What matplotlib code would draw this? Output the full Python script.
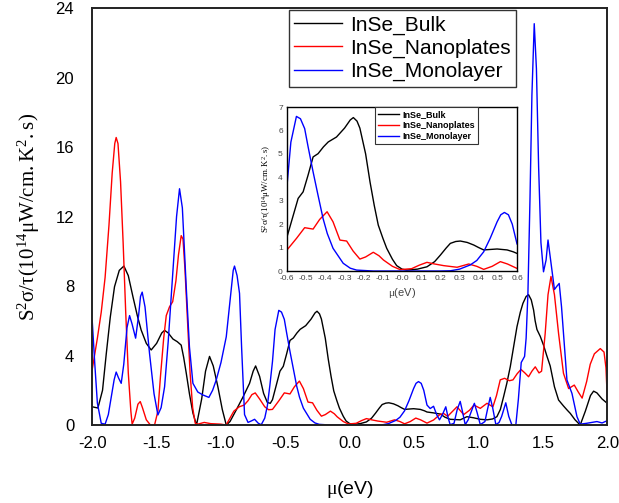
import numpy as np
import matplotlib.pyplot as plt
from matplotlib.ticker import FormatStrFormatter

plt.rcParams['font.family'] = ['Liberation Sans', 'DejaVu Sans']
plt.rcParams['mathtext.fontset'] = 'custom'
plt.rcParams['mathtext.rm'] = 'Liberation Serif'

# InSe_Bulk
mu_bulk = [-2.0, -1.956, -1.92, -1.891, -1.86, -1.827, -1.79, -1.754, -1.72, -1.684,
           -1.65, -1.62, -1.58, -1.542, -1.50, -1.46, -1.438, -1.41, -1.373, -1.34,
           -1.309, -1.29, -1.27, -1.245, -1.218, -1.19, -1.15, -1.12, -1.089, -1.06,
           -1.024, -0.99, -0.959, -0.93, -0.882, -0.83, -0.778, -0.75, -0.731, -0.70,
           -0.669, -0.64, -0.617, -0.6, -0.542, -0.516, -0.49, -0.464, -0.438, -0.41,
           -0.385, -0.342, -0.30, -0.27, -0.254, -0.235, -0.22, -0.19, -0.167, -0.145,
           -0.124, -0.10, -0.08, -0.05, -0.028, 0.0, 0.025, 0.08, 0.13, 0.17,
           0.2, 0.23, 0.252, 0.28, 0.304, 0.34, 0.374, 0.40, 0.426, 0.46,
           0.496, 0.548, 0.58, 0.6, 0.65, 0.704, 0.74, 0.78, 0.858, 0.91,
           0.96, 1.014, 1.066, 1.11, 1.143, 1.17, 1.195, 1.22, 1.247, 1.275,
           1.299, 1.325, 1.345, 1.37, 1.389, 1.41, 1.428, 1.44, 1.454, 1.48,
           1.505, 1.53, 1.557, 1.59, 1.622, 1.66, 1.69, 1.713, 1.75, 1.79,
           1.83, 1.87, 1.894, 1.92, 1.96, 2.0]
pf_bulk = [1.05, 0.98, 2.0, 4.1, 6.2, 7.96, 8.9, 9.15, 8.6, 7.39,
           6.3, 5.47, 4.7, 4.32, 4.7, 5.3, 5.45, 5.3, 4.95, 4.8,
           4.6, 3.9, 3.0, 1.8, 0.69, 0.0, 1.5, 3.1, 3.95, 3.4,
           2.2, 0.9, 0.0, 0.2, 0.86, 1.6, 2.4, 3.1, 3.4, 2.8,
           1.82, 1.3, 1.25, 1.46, 3.1, 3.38, 4.1, 4.87, 5.01, 5.3,
           5.51, 5.72, 6.1, 6.45, 6.55, 6.4, 6.1, 5.0, 3.8, 2.8,
           1.96, 1.4, 0.97, 0.5, 0.23, 0.08, 0.04, 0.08, 0.18, 0.4,
           0.68, 0.98, 1.18, 1.26, 1.28, 1.22, 1.11, 1.0, 0.9, 0.92,
           0.94, 0.9, 0.82, 0.75, 0.7, 0.63, 0.45, 0.33, 0.3, 0.48,
           0.42, 0.33, 0.3, 0.35, 0.48, 0.9, 1.63, 2.4, 3.36, 4.6,
           5.66, 6.5, 7.0, 7.4, 7.5, 7.2, 6.62, 6.0, 5.5, 5.1,
           4.6, 4.0, 3.4, 2.2, 1.44, 1.1, 0.85, 0.67, 0.3, 0.0,
           0.8, 1.7, 1.95, 1.85, 1.5, 1.25]

# InSe_Nanoplates
mu_nano = [-2.0, -1.96, -1.93, -1.90, -1.87, -1.845, -1.825, -1.814, -1.80, -1.78,
           -1.76, -1.74, -1.72, -1.70, -1.69, -1.67, -1.645, -1.627, -1.61, -1.58,
           -1.55, -1.516, -1.49, -1.47, -1.445, -1.425, -1.40, -1.375, -1.35, -1.33,
           -1.309, -1.295, -1.28, -1.26, -1.24, -1.22, -1.20, -1.18, -1.13, -1.08,
           -1.0, -0.96, -0.93, -0.90, -0.858, -0.82, -0.79, -0.76, -0.734, -0.70,
           -0.66, -0.63, -0.6, -0.55, -0.508, -0.464, -0.43, -0.391, -0.36, -0.324,
           -0.289, -0.255, -0.22, -0.19, -0.15, -0.12, -0.097, -0.05, -0.01, 0.05,
           0.09, 0.13, 0.17, 0.217, 0.287, 0.348, 0.39, 0.426, 0.47, 0.513,
           0.55, 0.6, 0.651, 0.70, 0.729, 0.76, 0.80, 0.833, 0.885, 0.93,
           0.965, 1.014, 1.066, 1.112, 1.14, 1.169, 1.203, 1.24, 1.268, 1.30,
           1.33, 1.36, 1.389, 1.415, 1.441, 1.47, 1.49, 1.518, 1.54, 1.563,
           1.59, 1.622, 1.66, 1.70, 1.744, 1.775, 1.805, 1.84, 1.868, 1.90,
           1.946, 1.975, 1.99, 2.0]
pf_nano = [3.2, 5.0, 6.5, 8.5, 11.5, 14.5, 16.2, 16.55, 16.2, 14.0,
           10.5, 6.5, 3.0, 0.8, 0.05, 0.4, 1.2, 1.35, 1.0, 0.3,
           0.02, 0.0, 0.8, 2.8, 5.0, 6.3, 6.8, 7.1, 8.3, 9.8,
           10.9, 10.7, 9.0, 6.0, 3.0, 1.0, 0.1, 0.05, 0.15, 0.08,
           0.05, 0.0, 0.4, 0.8, 1.05, 1.15, 1.4, 1.75, 1.85, 1.5,
           1.05, 0.88, 0.9, 1.4, 1.85, 1.79, 2.2, 2.53, 2.1, 1.32,
           1.28, 0.85, 0.51, 0.6, 0.8, 0.65, 0.47, 0.2, 0.06, 0.1,
           0.25, 0.37, 0.3, 0.23, 0.16, 0.3, 0.2, 0.07, 0.2, 0.4,
           0.3, 0.11, 0.29, 0.6, 0.67, 0.5, 0.8, 1.05, 0.6, 0.85,
           1.15, 0.96, 1.25, 1.05, 1.7, 2.6, 2.69, 2.55, 2.6, 2.95,
           3.2, 3.0, 2.78, 3.1, 3.35, 3.0, 3.1, 5.27, 7.5, 8.55,
           7.5, 5.27, 2.98, 2.1, 2.3, 1.9, 1.55, 2.5, 3.5, 4.1,
           4.4, 4.2, 3.3, 1.6]

# InSe_Monolayer
mu_mono = [-2.0, -1.98, -1.96, -1.93, -1.90, -1.875, -1.852, -1.83, -1.814, -1.795,
           -1.775, -1.755, -1.73, -1.71, -1.69, -1.663, -1.64, -1.625, -1.612, -1.59,
           -1.555, -1.52, -1.49, -1.465, -1.438, -1.41, -1.373, -1.345, -1.322, -1.30,
           -1.27, -1.245, -1.218, -1.18, -1.14, -1.094, -1.065, -1.037, -1.0, -0.959,
           -0.925, -0.905, -0.895, -0.875, -0.856, -0.84, -0.817, -0.79, -0.76, -0.739,
           -0.71, -0.687, -0.66, -0.64, -0.62, -0.6, -0.58, -0.551, -0.53, -0.508,
           -0.49, -0.464, -0.44, -0.412, -0.39, -0.36, -0.307, -0.27, -0.237, -0.15,
           0.0, 0.2, 0.252, 0.30, 0.356, 0.39, 0.426, 0.46, 0.496, 0.515,
           0.534, 0.555, 0.575, 0.6, 0.625, 0.651, 0.675, 0.697, 0.72, 0.746,
           0.765, 0.78, 0.81, 0.835, 0.858, 0.875, 0.897, 0.92, 0.945, 0.968,
           0.99, 1.014, 1.05, 1.07, 1.091, 1.11, 1.135, 1.16, 1.18, 1.212,
           1.235, 1.26, 1.29, 1.31, 1.332, 1.358, 1.37, 1.384, 1.40, 1.415,
           1.433, 1.45, 1.467, 1.485, 1.505, 1.525, 1.54, 1.56, 1.59, 1.61,
           1.627, 1.645, 1.66, 1.687, 1.726, 1.765, 1.79, 1.84, 1.88, 1.92,
           1.96, 2.0]
pf_mono = [6.0, 3.5, 1.26, 0.1, 0.05, 0.6, 1.63, 2.6, 3.05, 2.7,
           2.4, 3.5, 5.6, 6.3, 5.8, 5.0, 6.3, 7.4, 7.65, 6.8,
           4.12, 1.8, 0.58, 1.0, 2.2, 4.8, 8.92, 12.0, 13.6, 12.5,
           7.96, 4.5, 2.4, 1.9, 1.73, 1.59, 2.0, 2.59, 3.6, 5.08,
           7.5, 8.9, 9.15, 8.6, 7.58, 4.5, 0.6, 0.15, 0.25, 0.33,
           0.1, 0.02, 0.4, 1.1, 2.3, 3.66, 5.5, 6.6, 6.5, 6.08,
           5.3, 4.23, 3.3, 2.24, 1.6, 0.97, 0.33, 0.12, 0.04, 0.0,
           0.0, 0.0, 0.01, 0.08, 0.26, 0.45, 0.82, 1.4, 2.1, 2.4,
           2.5, 2.4, 2.0, 1.15, 0.95, 1.08, 0.6, 0.3, 0.6, 1.05,
           0.4, 0.02, 0.1, 0.9, 1.36, 0.8, 0.02, 0.3, 0.8, 1.25,
           0.7, 0.02, 0.2, 0.9, 1.59, 1.0, 0.02, 0.15, 0.5, 1.28,
           0.5, 0.0, 0.0, 1.5, 3.6, 3.95, 5.0, 7.6, 13.0, 19.0,
           23.1, 20.5, 14.87, 10.5, 8.82, 9.5, 10.65, 9.5, 7.8, 8.0,
           8.15, 6.8, 5.27, 2.59, 1.82, 0.48, 0.05, 0.1, 0.15, 0.2,
           0.12, 0.25]

labels = ["InSe_Bulk", "InSe_Nanoplates", "InSe_Monolayer"]
colors = ["black", "red", "blue"]
series = [(mu_bulk, pf_bulk), (mu_nano, pf_nano), (mu_mono, pf_mono)]

ylab = r'$\mathrm{S^2\sigma/\tau(10^{14}\mu W/cm.K^2.s)}$'

fig = plt.figure(figsize=(6.19, 5.03), dpi=100)
ax = fig.add_axes([0.149, 0.155, 0.832, 0.829])

for (x, y), c, lab in zip(series, colors, labels):
    ax.plot(x, y, color=c, lw=1.0, label=lab)

ax.set_xlim(-2, 2)
ax.set_ylim(0, 24)
ax.set_xticks(np.arange(-2.0, 2.01, 0.5))
ax.set_yticks(np.arange(0, 25, 4))
ax.xaxis.set_major_formatter(FormatStrFormatter('%.1f'))
ax.tick_params(length=0, labelsize=12, pad=8)
ax.tick_params(axis='y', pad=13)
for s in ax.spines.values():
    s.set_linewidth(1.4)
    s.set_color('#222222')
ax.set_xlabel(r'$\mathrm{\mu}$(eV)', fontsize=14, labelpad=20)
ax.set_ylabel(ylab, fontsize=15, labelpad=10)

leg = ax.legend(loc='upper right', bbox_to_anchor=(0.823, 0.995), fontsize=15,
                fancybox=False, edgecolor='#333333', framealpha=1,
                borderaxespad=0, handlelength=2.3, labelspacing=0.2,
                borderpad=0.25, handletextpad=0.4)
leg.get_frame().set_linewidth(1.0)

# inset
ins = fig.add_axes([0.4637, 0.4612, 0.3716, 0.326])
for (x, y), c, lab in zip(series, colors, labels):
    ins.plot(x, y, color=c, lw=1.0, label=lab)
ins.set_xlim(-0.6, 0.6)
ins.set_ylim(0, 7)
ins.set_xticks(np.arange(-0.6, 0.61, 0.1))
ins.set_yticks(np.arange(0, 8, 1))
ins.xaxis.set_major_formatter(FormatStrFormatter('%.1f'))
ins.tick_params(length=0, labelsize=6, pad=3, labelcolor='#444444')
for s in ins.spines.values():
    s.set_linewidth(1.0)
ins.set_xlabel(r'$\mathrm{\mu}$(eV)', fontsize=8, color='#444444', labelpad=3)
ins.set_ylabel(ylab, fontsize=6.3, labelpad=4)
ileg = ins.legend(loc='upper right', bbox_to_anchor=(0.83, 1.0),
                  prop={'weight': 'bold', 'size': 6.5}, fancybox=False,
                  edgecolor='#333333', framealpha=1, borderaxespad=0,
                  handlelength=2.3, labelspacing=0.2, borderpad=0.35,
                  handletextpad=0.4)
ileg.get_frame().set_linewidth(0.8)

fig.savefig("out.png", dpi=100)
